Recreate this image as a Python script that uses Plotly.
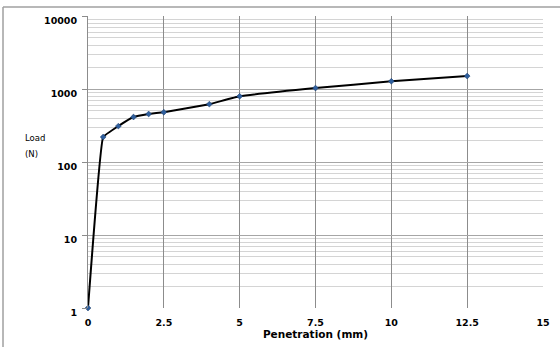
import plotly.graph_objects as go

penetration_mm = [0, 0.5, 1, 1.5, 2, 2.5, 4, 5, 7.5, 10, 12.5]
load_n = [1, 220, 310, 413, 455, 480, 620, 795, 1030, 1275, 1505]

x_ticks = [0, 2.5, 5, 7.5, 10, 12.5, 15]
x_tick_text = ["0", "2.5", "5", "7.5", "10", "12.5", "15"]
y_ticks = [1, 10, 100, 1000, 10000]
y_tick_text = ["1", "10", "100", "1000", "10000"]

fig = go.Figure()
fig.add_trace(go.Scatter(
    x=penetration_mm, y=load_n, mode="lines+markers",
    line=dict(color="black", width=2, shape="spline", smoothing=0.22),
    marker=dict(symbol="diamond", size=4.5, color="#2F5F9E",
                line=dict(color="#1B3A66", width=0.5)),
    cliponaxis=False, showlegend=False,
))

tick_font = dict(family="DejaVu Sans", size=9.5, color="black", weight="bold")

fig.update_layout(
    width=560, height=347,
    margin=dict(l=88, r=17, t=16, b=39, autoexpand=False),
    paper_bgcolor="white", plot_bgcolor="white",
    xaxis=dict(
        range=[0, 15], tickvals=x_ticks, ticktext=x_tick_text,
        showgrid=True, gridcolor="#8c8c8c", gridwidth=1,
        zeroline=False, showline=False, automargin=False,
        ticks="outside", ticklen=6, tickcolor="rgba(0,0,0,0)",
        tickfont=tick_font,
        title=dict(text="Penetration (mm)", standoff=3,
                   font=dict(family="DejaVu Sans", size=10.5, color="black", weight="bold")),
    ),
    yaxis=dict(
        type="log", range=[0, 4], tickvals=y_ticks, ticktext=y_tick_text,
        showgrid=True, gridcolor="#a6a6a6", gridwidth=1,
        minor=dict(dtick="D1", showgrid=True, gridcolor="#d4d4d4", gridwidth=1, ticks=""),
        zeroline=False, showline=True, linecolor="#8c8c8c", linewidth=1, automargin=False,
        ticks="outside", ticklen=5, tickcolor="#8c8c8c",
        tickfont=tick_font, ticklabelshift=5, ticklabelstandoff=3,
    ),
    annotations=[
        dict(text="Load", xref="paper", yref="paper", x=-0.143, y=0.582,
             xanchor="left", yanchor="middle", showarrow=False,
             font=dict(family="DejaVu Sans", size=8.5, color="black")),
        dict(text="(N)", xref="paper", yref="paper", x=-0.143, y=0.527,
             xanchor="left", yanchor="middle", showarrow=False,
             font=dict(family="DejaVu Sans", size=8.5, color="black")),
    ],
    shapes=[
        dict(type="line", xref="paper", yref="paper", x0=-0.1868, x1=1.05, y0=1.0308, y1=1.0308,
             line=dict(color="#a0a0a0", width=1.5)),
        dict(type="line", xref="paper", yref="paper", x0=-0.1868, x1=-0.1868, y0=1.0308, y1=-0.15,
             line=dict(color="#a0a0a0", width=1.5)),
    ],
)

fig.write_html("out.html", config={"displayModeBar": False},
               post_script="document.body.style.margin='0';document.body.style.overflow='hidden';")
